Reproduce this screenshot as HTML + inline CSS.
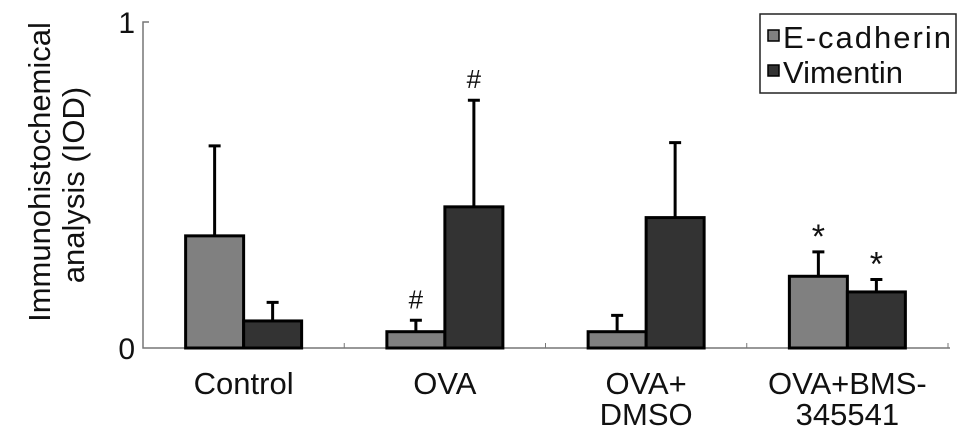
<!DOCTYPE html>
<html><head><meta charset="utf-8"><style>
body{margin:0;background:#fff}
svg text{font-family:"Liberation Sans",sans-serif;fill:#111}
</style></head><body>
<svg id="chart" width="969" height="440">
<g id="g"></g>
</svg>
<script>
const categories=[["Control"],["OVA"],["OVA+","DMSO"],["OVA+BMS-","345541"]];
const ecadherin=[0.344,0.05,0.05,0.22];
const ecadherinErr=[0.276,0.035,0.05,0.075];
const vimentin=[0.083,0.433,0.40,0.172];
const vimentinErr=[0.057,0.327,0.23,0.038];
const ecadMarks=["","#","","*"];
const vimMarks=["","#","","*"];
const yTicks=[0,1];
const NS="http://www.w3.org/2000/svg";
const g=document.getElementById('g');
const x0=143,x1=948,y0=348,yTop=22;
const bw=(x1-x0)/categories.length;
const y=v=>y0-v*(y0-yTop);
function el(t,a,txt){const e=document.createElementNS(NS,t);for(const k in a)e.setAttribute(k,a[k]);if(txt!==undefined)e.textContent=txt;g.appendChild(e);return e;}
let e;
e=el('path',{d:`M${x0+6} ${yTop}H${x0}V${y0}H${x1+2}`,fill:'none',stroke:'#777','stroke-width':1.5});


yTicks.forEach(t=>{
 e=el('text',{x:x0-8,y:y(t)+11,'text-anchor':'end','font-size':30},String(t));
 
 
});
e=el('text',{transform:'translate(50,172) rotate(-90)','text-anchor':'middle','font-size':31},'Immunohistochemical');


e=el('text',{transform:'translate(84,185) rotate(-90)','text-anchor':'middle','font-size':31},'analysis (IOD)');


const W=58;
function bar(cx,v,err,fill,mark,name){
 const top=y(v),et=y(v+err);
 let r=el('rect',{x:cx,y:top,width:W,height:y0-top,fill:fill,stroke:'#000','stroke-width':3});
 
 
 let l=el('path',{d:`M${cx+W/2} ${top}V${et}M${cx+W/2-6} ${et}H${cx+W/2+6}`,stroke:'#000','stroke-width':3,fill:'none'});
 
 
 if(mark){let t=el('text',{x:cx+W/2,y:et-(mark=='#'?12:4),'text-anchor':'middle','font-size':mark=='#'?26:34,'font-family':'Liberation Serif',fill:mark=='#'?'#111':'#555'},mark);
 
 }
}
categories.forEach((c,i)=>{
 const cx=x0+bw*(i+0.5);
 if(i>0){e=el('line',{x1:x0+bw*i,x2:x0+bw*i,y1:y0,y2:y0-5,stroke:'#777'});
 
 }
 bar(cx-W,ecadherin[i],ecadherinErr[i],'#808080',ecadMarks[i],'bar-ecadherin');
 bar(cx,vimentin[i],vimentinErr[i],'#333333',vimMarks[i],'bar-vimentin');
 c.forEach((s,j)=>{e=el('text',{x:cx,y:394+j*31,'text-anchor':'middle','font-size':31},s);
 
 });
});
e=el('line',{x1:x1,x2:x1,y1:y0,y2:y0-5,stroke:'#777'});


e=el('rect',{x:760,y:14,width:196,height:79,fill:'#fff',stroke:'#222','stroke-width':1.5});


[['E-cadherin','#808080',48],['Vimentin','#333333',83]].forEach(([n,c,yy])=>{
 e=el('rect',{x:768,y:yy-18,width:11,height:11,fill:c,stroke:'#000','stroke-width':1.5});
 
 
 e=el('text',{x:783,y:yy,'font-size':31,textLength:168},n);
 if(n==='Vimentin')e.removeAttribute('textLength');
 
 
});
</script>
</body></html>
